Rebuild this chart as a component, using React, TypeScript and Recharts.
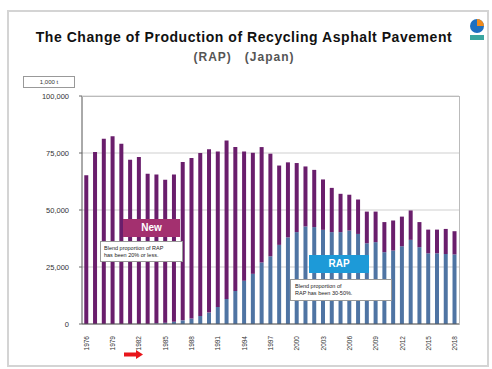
import React from "react";
import { BarChart, Bar, XAxis, YAxis, CartesianGrid } from "recharts";

const years = [
  1976, 1977, 1978, 1979, 1980, 1981, 1982, 1983, 1984, 1985, 1986, 1987, 1988, 1989, 1990,
  1991, 1992, 1993, 1994, 1995, 1996, 1997, 1998, 1999, 2000, 2001, 2002, 2003, 2004, 2005,
  2006, 2007, 2008, 2009, 2010, 2011, 2012, 2013, 2014, 2015, 2016, 2017, 2018,
];

// RAP-based mix (thousand t)
const rapValues = [
  0, 0, 0, 0, 0, 0, 0, 0, 300, 600, 1000, 1600, 2400, 3500, 5000,
  7500, 11000, 14500, 19000, 22000, 27000, 29700, 34700, 38000, 40300, 42800, 42500, 41300, 40300, 40300,
  41000, 39500, 35400, 35900, 31500, 32200, 34100, 36900, 33700, 31000, 31000, 30700, 30500,
];

// New mix (thousand t)
const newValues = [
  65200, 75400, 81300, 82300, 79100, 72000, 73200, 65900, 65300, 62700, 64600, 69400, 70400, 71500, 71600,
  68200, 69500, 63100, 56700, 53100, 50600, 45000, 34800, 32900, 30300, 26300, 25100, 22100, 19400, 16800,
  15700, 15100, 13900, 13400, 13200, 13200, 13000, 12900, 11000, 10400, 10400, 11000, 10200,
];

const yTicks = [0, 25000, 50000, 75000, 100000];

const data = years.map((y, i) => ({ year: String(y), rap: rapValues[i], fresh: newValues[i] }));

const FONT = "'Liberation Sans', Arial, sans-serif";

const XTick = (props: any) => {
  const { x, y, payload } = props;
  return (
    <text
      x={x}
      y={y + 4}
      transform={`rotate(-90 ${x} ${y + 4})`}
      textAnchor="end"
      dominantBaseline="central"
      fontSize={6.5}
      fill="#333"
      fontFamily={FONT}
    >
      {payload.value}
    </text>
  );
};

export default function App() {
  return (
    <div
      style={{
        position: "absolute",
        left: 0,
        top: 0,
        width: 492,
        height: 369,
        background: "#fff",
        fontFamily: FONT,
        overflow: "hidden",
      }}
    >
      <div
        style={{
          position: "absolute",
          left: 7,
          top: 10,
          width: 478,
          height: 353,
          border: "2px solid #d4d4d4",
        }}
      />
      <div
        style={{
          position: "absolute",
          left: 0,
          top: 29,
          width: 488,
          textAlign: "center",
          fontSize: 14,
          fontWeight: 900,
          color: "#111",
          letterSpacing: 0.55,
          whiteSpace: "nowrap",
        }}
      >
        The Change of Production of Recycling Asphalt Pavement
      </div>
      <div
        style={{
          position: "absolute",
          left: 0,
          top: 50,
          width: 488,
          textAlign: "center",
          fontSize: 12,
          fontWeight: 700,
          color: "#555",
          letterSpacing: 1,
          whiteSpace: "pre",
        }}
      >
        {"(RAP)   (Japan)"}
      </div>
      <svg style={{ position: "absolute", left: 468, top: 18 }} width={18} height={26}>
        <circle cx={9} cy={8} r={7} fill="#1f6fc0" />
        <path d="M9 1 A7 7 0 0 1 16 8 L9 8 Z" fill="#f08a1c" />
        <rect x={2} y={17} width={14} height={5} fill="#3aa6a0" />
      </svg>
      <div
        style={{
          position: "absolute",
          left: 23,
          top: 76,
          width: 50,
          height: 10,
          border: "1px solid #999",
          background: "#fff",
          fontSize: 6,
          lineHeight: "10px",
          textAlign: "center",
          color: "#333",
        }}
      >
        1,000 t
      </div>

      <div style={{ position: "absolute", left: 0, top: 0 }}>
        <BarChart
          width={492}
          height={369}
          data={data}
          margin={{ top: 96, right: 33, bottom: 15, left: 22 }}
          barCategoryGap="26%"
        >
          <CartesianGrid vertical={false} stroke="#cfcfcf" />
          <XAxis
            dataKey="year"
            interval={2}
            tick={<XTick />}
            tickLine={false}
            axisLine={{ stroke: "#555" }}
            height={30}
          />
          <YAxis
            domain={[0, 100000]}
            ticks={yTicks}
            width={60}
            tickFormatter={(v: number) => v.toLocaleString("en-US")}
            tick={{ fontSize: 7.5, fill: "#333", fontFamily: FONT }}
            tickLine={{ stroke: "#666" }}
            tickSize={3}
            tickMargin={10}
            axisLine={{ stroke: "#555" }}
          />
          <Bar dataKey="rap" stackId="a" fill="#4f74a3" isAnimationActive={false} />
          <Bar dataKey="fresh" stackId="a" fill="#6a1e6c" isAnimationActive={false} />
        </BarChart>
      </div>

      <div
        style={{
          position: "absolute",
          left: 82,
          top: 96,
          width: 377,
          height: 228,
          borderTop: "1px solid #bbb",
          borderRight: "1px solid #bbb",
          pointerEvents: "none",
        }}
      />

      <div
        style={{
          position: "absolute",
          left: 123,
          top: 219,
          width: 57,
          height: 18,
          background: "#a3306f",
          color: "#fff",
          fontSize: 10,
          fontWeight: 700,
          lineHeight: "18px",
          textAlign: "center",
        }}
      >
        New
      </div>
      <div
        style={{
          position: "absolute",
          left: 100,
          top: 241,
          width: 83,
          height: 21,
          background: "#fff",
          border: "1px solid #999",
          fontSize: 5.5,
          lineHeight: "7px",
          padding: "3px 3px 0 3px",
          boxSizing: "border-box",
          color: "#222",
        }}
      >
        Blend proportion of RAP
        <br />
        has been 20% or less.
      </div>

      <div
        style={{
          position: "absolute",
          left: 309,
          top: 255,
          width: 60,
          height: 18,
          background: "#1d9ad8",
          color: "#fff",
          fontSize: 10,
          fontWeight: 700,
          lineHeight: "18px",
          textAlign: "center",
        }}
      >
        RAP
      </div>
      <div
        style={{
          position: "absolute",
          left: 290,
          top: 279,
          width: 102,
          height: 22,
          background: "#fff",
          border: "1px solid #999",
          fontSize: 5.5,
          lineHeight: "7px",
          padding: "3px 4px 0 4px",
          boxSizing: "border-box",
          color: "#222",
        }}
      >
        Blend proportion of
        <br />
        RAP has been 30-50%.
      </div>

      <svg style={{ position: "absolute", left: 124, top: 350 }} width={20} height={9}>
        <rect x={0} y={2.5} width={13} height={4} fill="#e8151b" />
        <polygon points="12,0 19,4.5 12,9" fill="#e8151b" />
      </svg>
    </div>
  );
}
